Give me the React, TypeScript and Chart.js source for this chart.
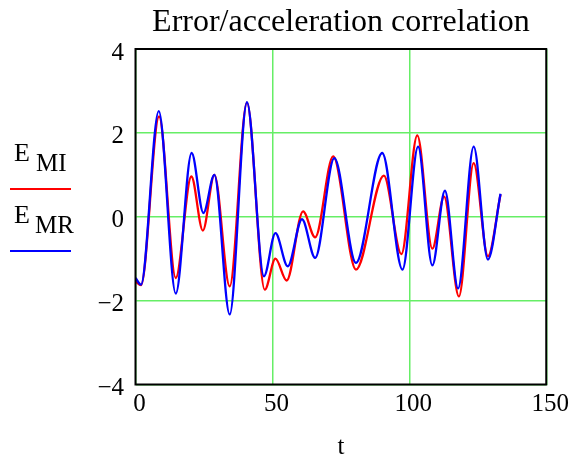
import React, { useEffect, useRef } from "react";
import { Chart, registerables } from "chart.js";

Chart.register(...registerables);

// E_MR (blue) — times and values of the curve's turning points
const tMR = [0, 2, 8.5, 14.7, 20.5, 24.8, 28.8, 34.4, 40.7, 46.9, 51.1, 55.6, 60.8, 65.6, 72.6, 80.5, 90.1, 97.5, 103.2, 108.4, 113, 117.8, 123.5, 128.7, 133.3];
const eMR = [-1.46, -1.62, 2.52, -1.83, 1.52, 0.09, 1.0, -2.33, 2.73, -1.42, -0.39, -1.18, -0.06, -0.98, 1.4, -1.1, 1.52, -1.26, 1.67, -1.16, 0.62, -1.71, 1.67, -1.02, 0.55];

// E_MI (red)
const tMI = [0, 2, 8.6, 14.7, 20.4, 24.6, 28.8, 34.4, 40.7, 47.2, 51.1, 55.2, 61.2, 65.6, 72.2, 80.5, 90.7, 97.1, 102.9, 108.4, 112.7, 118.1, 123.5, 128.7, 133.3];
const eMI = [-1.54, -1.63, 2.39, -1.46, 0.96, -0.33, 1.0, -1.66, 2.72, -1.74, -1.0, -1.52, 0.13, -0.49, 1.44, -1.26, 0.98, -0.89, 1.94, -0.76, 0.48, -1.9, 1.28, -0.94, 0.53];

const seriesMain = ["E", "E"];
const seriesSub = ["MI", "MR"];
const seriesColors = ["#ff0000", "#0000ff"];

const titleText = "Error/acceleration correlation";
const xTitle = "t";
const xMin = 0, xMax = 150, xStep = 50;
const yMin = -4, yMax = 4, yStep = 2;

const FONT = "'Liberation Serif', 'Times New Roman', serif";

const frameAndLegend = {
  id: "frameAndLegend",
  afterDraw(chart: any) {
    const { ctx, chartArea } = chart;
    ctx.save();
    ctx.strokeStyle = "#000";
    ctx.lineWidth = 2;
    ctx.strokeRect(chartArea.left, chartArea.top, chartArea.right - chartArea.left, chartArea.bottom - chartArea.top);
    // side legend
    const rows = [
      { eX: 14, eY: 160.7, sX: 36, sY: 170.7, lineY: 189 },
      { eX: 14, eY: 222.7, sX: 35, sY: 232.7, lineY: 251 },
    ];
    ctx.fillStyle = "#000";
    ctx.textBaseline = "alphabetic";
    ctx.textAlign = "left";
    rows.forEach((r, i) => {
      ctx.font = `26px ${FONT}`;
      ctx.fillText(seriesMain[i], r.eX, r.eY);
      ctx.font = `25px ${FONT}`;
      ctx.fillText(seriesSub[i], r.sX, r.sY);
      ctx.strokeStyle = seriesColors[i];
      ctx.lineWidth = 2;
      ctx.beginPath();
      ctx.moveTo(10, r.lineY);
      ctx.lineTo(71, r.lineY);
      ctx.stroke();
    });
    ctx.restore();
  },
};

const fmt = (v: number) => (v < 0 ? "\u2212" + Math.abs(v) : String(v));

export default function App() {
  const ref = useRef<HTMLCanvasElement | null>(null);
  useEffect(() => {
    if (!ref.current) return;
    const chart = new Chart(ref.current, {
      type: "line",
      data: {
        datasets: [
          {
            label: seriesMain[0] + seriesSub[0],
            data: tMI.map((t, i) => ({ x: t, y: eMI[i] })),
            borderColor: seriesColors[0],
            borderWidth: 2.3,
            pointRadius: 0,
            cubicInterpolationMode: "monotone",
            order: 1,
          },
          {
            label: seriesMain[1] + seriesSub[1],
            data: tMR.map((t, i) => ({ x: t, y: eMR[i] })),
            borderColor: seriesColors[1],
            borderWidth: 2.3,
            pointRadius: 0,
            cubicInterpolationMode: "monotone",
            order: 0,
          },
        ],
      },
      options: {
        animation: false,
        responsive: false,
        devicePixelRatio: 1,
        layout: { padding: { left: 0, right: 22.5, top: 0, bottom: 0 } },
        plugins: {
          legend: { display: false },
          tooltip: { enabled: false },
          title: {
            display: true,
            text: titleText,
            fullSize: false,
            color: "#000",
            font: { family: FONT, size: 32, weight: "normal", lineHeight: 1 },
            padding: { top: 7, bottom: 10 },
          },
        },
        scales: {
          x: {
            type: "linear",
            min: xMin,
            max: xMax,
            border: { display: false },
            grid: { color: "#66ee66", lineWidth: 1.5, drawTicks: false },
            ticks: {
              stepSize: xStep,
              color: "#000",
              font: { family: FONT, size: 25 },
              padding: 5,
              labelOffset: 4,
              maxRotation: 0,
            },
            title: {
              display: true,
              text: xTitle,
              color: "#000",
              font: { family: FONT, size: 25, lineHeight: 0.8 },
              padding: { top: 0, bottom: 0 },
            },
            afterFit: (s: any) => {
              s.height = 72.5;
            },
          },
          y: {
            type: "linear",
            min: yMin,
            max: yMax,
            border: { display: false },
            grid: { color: "#66ee66", lineWidth: 1.5, drawTicks: false },
            ticks: {
              stepSize: yStep,
              color: "#000",
              font: { family: FONT, size: 25 },
              padding: 11.5,
              labelOffset: 4,
              callback: (v: any) => fmt(Number(v)),
            },
            afterFit: (s: any) => {
              s.width = 135.5;
            },
          },
        },
      },
      plugins: [frameAndLegend],
    });
    return () => chart.destroy();
  }, []);
  return (
    <div style={{ position: "absolute", left: 0, top: 0, width: 570, height: 457, background: "#fff" }}>
      <canvas ref={ref} width={570} height={457} />
    </div>
  );
}
